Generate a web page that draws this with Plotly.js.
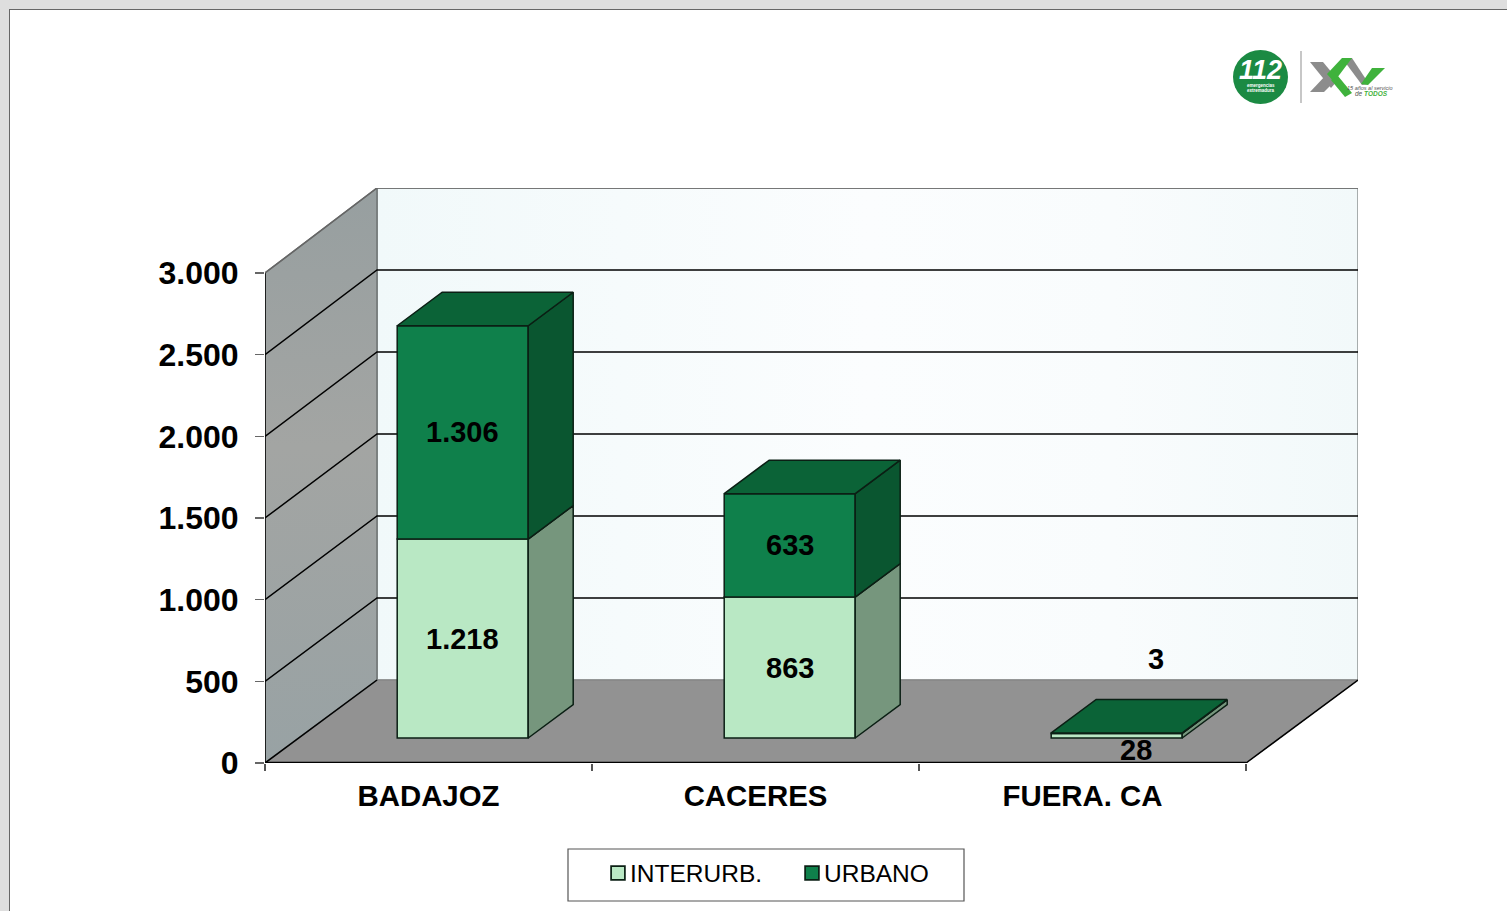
<!DOCTYPE html>
<html><head><meta charset="utf-8">
<script src="https://cdn.plot.ly/plotly-3.0.1.min.js"></script>
<style>
html,body{margin:0;padding:0;background:#dedede;width:1507px;height:911px;overflow:hidden}
#page{position:absolute;left:9px;top:9px;width:1498px;height:902px;background:#fff;border-left:1px solid #666;border-top:1px solid #666;box-sizing:border-box}
#chart{position:absolute;left:0;top:0;width:1507px;height:911px}
</style></head><body>
<div id="page"></div><div id="chart"></div>
<script>
// ---- data ----
const categories = ['BADAJOZ', 'CACERES', 'FUERA. CA'];
const interurbano = [1218, 863, 28];
const urbano = [1306, 633, 3];
const yTicks = [0, 500, 1000, 1500, 2000, 2500, 3000];
const seriesNames = ['INTERURB.', 'URBANO'];

// ---- geometry of the oblique projection (pixels -> axis units) ----
const W = 1507, H = 911, L = 265, R = 1358, T = 188, B = 763;
const catPx = 327, valPx = 490 / 3000;
const xMax = (R - L) / catPx, yMax = (B - T) / valPx;
const ux = p => p / catPx, uy = p => p / valPx;
const wallDX = ux(112), wallDY = uy(83), backScale = 492 / 490;
const barOffX = ux(34.2), barOffY = uy(25), barDX = ux(45), barDY = uy(33.5);
const barW = ux(131);
const fmt = v => String(v).replace(/\B(?=(\d{3})+$)/g, '.');
const px = x => (x - L) / (R - L), py = y => (B - y) / (B - T);
const backY = v => v * backScale + wallDY;

const font = 'Liberation Sans, Arial, sans-serif';
const ink = '#000';
const traces = [];
function poly(xs, ys, fill, line, width, extra) {
  traces.push(Object.assign({type:'scatter', mode: width ? 'lines' : 'none', x:xs, y:ys, fill:'toself',
    fillcolor:fill, line:{color:line, width:width||0}, showlegend:false, hoverinfo:'skip', xaxis:'x', yaxis:'y'}, extra||{}));
}
function seg(xs, ys, color, width) {
  traces.push({type:'scatter', mode:'lines', x:xs, y:ys, line:{color:color, width:width}, showlegend:false, hoverinfo:'skip', xaxis:'x', yaxis:'y', cliponaxis:false});
}
const top3 = yTicks[yTicks.length-1];
// back wall
poly([wallDX, 3+wallDX, 3+wallDX, wallDX, wallDX], [backY(0), backY(0), backY(top3), backY(top3), backY(0)], '#f4fbfc', '#8f9494', 1.5,
  {fillgradient:{type:'horizontal', colorscale:[[0,'#f1f9fa'],[0.25,'#f6fbfc'],[0.5,'#fbfdfe'],[0.75,'#f9fcfd'],[1,'#f2f9fa']]}});
// floor
poly([0, 3, 3+wallDX, wallDX, 0], [0, 0, backY(0), backY(0), 0], '#929292', '#808080', 1);
// left wall
poly([0, wallDX, wallDX, 0, 0], [0, backY(0), backY(top3), top3, 0], '#9aa1a2', '#6f7474', 1.5,
  {fillgradient:{type:'vertical', colorscale:[[0,'#98a2a4'],[0.55,'#a3a5a3'],[1,'#979fa0']]}});
// gridlines over left wall and back wall
yTicks.slice(1, -1).forEach(v => {
  seg([0, wallDX, 3+wallDX], [v, backY(v), backY(v)], ink, 1.5);
});
// floor edges
seg([0, wallDX], [0, backY(0)], ink, 1.5);
seg([3, 3+wallDX], [0, backY(0)], ink, 1.5);
seg([0, 0], [0, top3], ink, 1.5);
seg([0, 3], [0, 0], ink, 2.5);
seg([0, wallDX, 3+wallDX], [top3, backY(top3), backY(top3)], '#666', 1.5);

// ---- bars: real bar traces for the front faces, polygons for the faces in depth ----
const barX = categories.map((c, i) => i + 0.5 + barOffX);
const frontBase = interurbano.map(() => barOffY);
const midBase = interurbano.map(v => v + barOffY);
const barCommon = {type:'bar', width:barW, xaxis:'x2', yaxis:'y2', hoverinfo:'skip', x:barX};
traces.push(Object.assign({}, barCommon, {name:seriesNames[0], y:interurbano, base:frontBase,
  marker:{color:'#b9e8c4', line:{color:'#0b1f14', width:1.5}}}));
traces.push(Object.assign({}, barCommon, {name:seriesNames[1], y:urbano, base:midBase,
  marker:{color:'#0f804b', line:{color:'#0b1f14', width:1.5}}}));
function face(xs, ys, fill) {
  traces.push({type:'scatter', mode:'lines', x:xs, y:ys, fill:'toself', fillcolor:fill, line:{color:'#0b1f14', width:1.5},
    showlegend:false, hoverinfo:'skip', xaxis:'x2', yaxis:'y2'});
}
categories.forEach((c, i) => {
  const xr = barX[i] + barW/2, xl = barX[i] - barW/2;
  const y0 = barOffY, y1 = y0 + interurbano[i], y2 = y1 + urbano[i];
  face([xr, xr+barDX, xr+barDX, xr, xr], [y0, y0+barDY, y1+barDY, y1, y0], '#76967d');
  face([xr, xr+barDX, xr+barDX, xr, xr], [y1, y1+barDY, y2+barDY, y2, y1], '#0a5630');
  face([xl, xl+barDX, xr+barDX, xr, xl], [y2, y2+barDY, y2+barDY, y2, y2], '#0b6337');
});

// ---- labels ----
const annotations = [];
const lab = (x, y, v) => annotations.push({xref:'x2', yref:'y2', x:x, y:y, text:fmt(v), showarrow:false,
  font:{family:font, size:29, color:ink, weight:'bold'}, xanchor:'center', yanchor:'middle'});
categories.forEach((c, i) => {
  if (i < 2) {
    lab(barX[i], barOffY + interurbano[i]/2, interurbano[i]);
    lab(barX[i], barOffY + interurbano[i] + urbano[i]/2, urbano[i]);
  }
});
// the two thin values sit beside their bar
lab(barX[2] + ux(19), interurbano[2]/2 + uy(10.5), interurbano[2]);
lab(barX[2] + ux(39), barOffY + interurbano[2] + urbano[2] + uy(74), urbano[2]);

// ---- logo (not data, page furniture) ----
const P = (x, y) => px(x).toFixed(5) + ',' + py(y).toFixed(5);
const pathOf = pts => 'M' + pts.map(p => P(p[0], p[1])).join('L') + 'Z';
const shapes = [
  {type:'rect', xref:'paper', yref:'paper', x0:px(568), x1:px(964), y0:py(901), y1:py(849), line:{color:'#555', width:1.2}, fillcolor:'#fff', layer:'below'},
  {type:'circle', xref:'paper', yref:'paper', x0:px(1233), x1:px(1288), y0:py(104), y1:py(50), fillcolor:'#1b8a43', line:{width:0}, layer:'below'},
  {type:'line', xref:'paper', yref:'paper', x0:px(1301), x1:px(1301), y0:py(103), y1:py(51), line:{color:'#b5b5b5', width:1.5}, layer:'below'}
];
const logo = (pts, c) => shapes.push({type:'path', xref:'paper', yref:'paper', path:pathOf(pts), fillcolor:c, line:{width:0}, layer:'below'});
logo([[1310,62],[1323,62],[1338,80],[1331,88]], '#8c8c8c');
logo([[1310,92],[1324,92],[1334,82],[1327,74]], '#8c8c8c');
logo([[1342,58],[1352,58],[1369,84],[1362,85]], '#8c8c8c');
logo([[1327,74],[1334,82],[1352,58],[1342,58]], '#3fb23c');
logo([[1331,80],[1338,76],[1352,93],[1345,97]], '#3fb23c');
logo([[1361,84],[1372,68],[1385,68],[1368,85]], '#3fb23c');
const note = (x, y, t, size, color, extra) => annotations.push({xref:'paper', yref:'paper', x:px(x), y:py(y), text:t, showarrow:false,
  font:Object.assign({family:font, size:size, color:color}, extra||{}), xanchor:'center', yanchor:'middle'});
note(1260, 70, '112', 27, '#fff', {weight:'bold', style:'italic'});
note(1261, 85, 'emergencias', 4.5, '#fff', {weight:'bold'});
note(1261, 91, 'extremadura', 4.5, '#fff', {weight:'bold'});
note(1370, 88, '15 años al servicio', 5.5, '#555', {style:'italic'});
note(1371, 94, 'de <b style="color:#3fb23c">TODOS</b>', 6.5, '#555', {style:'italic'});

const layout = {
  width:W, height:H, autosize:false, showlegend:true,
  margin:{l:L, r:W-R, t:T, b:H-B, pad:0},
  paper_bgcolor:'rgba(0,0,0,0)', plot_bgcolor:'rgba(0,0,0,0)',
  separators:',.', barmode:'overlay', font:{family:font, color:ink},
  xaxis:{range:[0, xMax], tickmode:'array', tickvals:categories.map((c,i)=>i+0.5), ticktext:categories, ticks:'outside', ticklen:7,
    tickcolor:'rgba(0,0,0,0)', tickfont:{family:font, size:29.4, weight:'bold', color:ink}, showgrid:false, zeroline:false, showline:false,
    minor:{tickmode:'array', tickvals:[0,1,2,3], ticks:'outside', ticklen:7, tickcolor:'#555', tickwidth:1.2, showgrid:false}, fixedrange:true},
  yaxis:{range:[0, yMax], tickmode:'array', tickvals:yTicks, ticktext:yTicks.map(fmt), ticks:'outside', ticklen:9, tickcolor:'#666', tickwidth:1.2,
    tickfont:{family:font, size:32, weight:'bold', color:ink}, showgrid:false, zeroline:false, showline:false, ticklabelstandoff:10, fixedrange:true},
  xaxis2:{range:[0, xMax], overlaying:'x', visible:false, fixedrange:true},
  yaxis2:{range:[0, yMax], overlaying:'y', visible:false, fixedrange:true},
  legend:{orientation:'h', x:px(590), xanchor:'left', y:py(873), yanchor:'middle', bgcolor:'rgba(0,0,0,0)', borderwidth:0,
    entrywidth:149, entrywidthmode:'pixels', font:{family:font, size:24.5, color:ink}, itemclick:false, itemdoubleclick:false, traceorder:'normal'},
  shapes:shapes, annotations:annotations
};
Plotly.newPlot('chart', traces, layout, {displayModeBar:false, responsive:false, staticPlot:true}).then(() => {
  // pull the legend swatches up to their text, as in the reference
  document.querySelectorAll('.legendsymbols').forEach(g => g.setAttribute('transform', 'translate(5,0) scale(1.15)'));
});
</script>
</body></html>
